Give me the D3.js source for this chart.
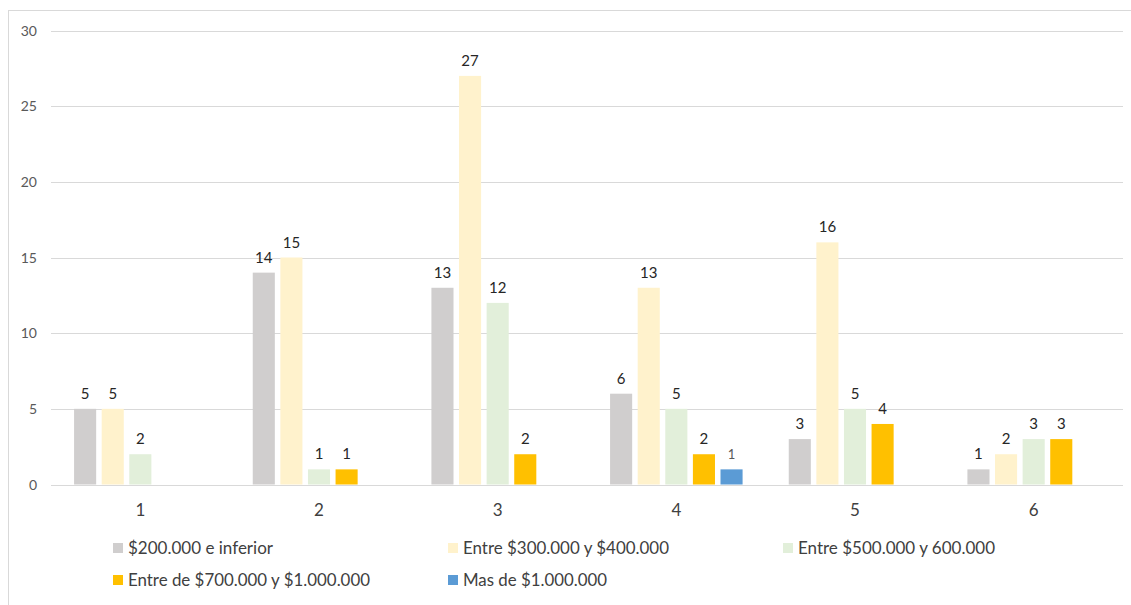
<!DOCTYPE html>
<html>
<head>
<meta charset="utf-8">
<script src="https://cdn.jsdelivr.net/npm/d3@7"></script>
<style>
  body { margin: 0; background: #fff; }
  text { font-family: Lato, "Liberation Sans", sans-serif; }
</style>
</head>
<body>
<script>
// categories and series
var categories = ["1", "2", "3", "4", "5", "6"];
var seriesNames = ["$200.000 e inferior", "Entre $300.000 y $400.000", "Entre $500.000 y 600.000",
                   "Entre de $700.000 y $1.000.000", "Mas de $1.000.000"];
var s200 = [5, 14, 13, 6, 3, 1];
var s300 = [5, 15, 27, 13, 16, 2];
var s500 = [2, 1, 12, 5, 5, 3];
var s700 = [0, 1, 2, 2, 4, 3];
var s1m = [0, 0, 0, 1, 0, 0];
var yTicks = [0, 5, 10, 15, 20, 25, 30];
var colours = ["#d0cece", "#fff2cc", "#e2efda", "#ffc000", "#5b9bd5"];

var allSeries = [s200, s300, s500, s700, s1m];

var W = 1131, H = 605;
var svg = d3.select("body").append("svg").attr("width", W).attr("height", H);

// outer chart frame
svg.append("rect")
    .attr("x", 8.5).attr("y", 10.5).attr("width", W + 10).attr("height", H + 10)
    .attr("fill", "none").attr("stroke", "#d9d9d9");

var plotLeft = 51, plotRight = 1123, plotTop = 30.5, plotBottom = 484.5;
var groupW = 132.5;

var x = d3.scaleBand().domain(categories).range([plotLeft, plotRight]);
var x1 = d3.scaleBand().domain(d3.range(5)).range([0, groupW]).paddingInner(0.2);
var y = d3.scaleLinear().domain([0, 30]).range([plotBottom, plotTop]);

// grid
svg.append("g").selectAll("line").data(yTicks).enter().append("line")
    .attr("x1", plotLeft).attr("x2", plotRight)
    .attr("y1", function(d) { return Math.round(y(d)) + 0.5; })
    .attr("y2", function(d) { return Math.round(y(d)) + 0.5; })
    .attr("stroke", "#d9d9d9").attr("stroke-width", 1);

// y labels
svg.append("g").selectAll("text").data(yTicks).enter().append("text")
    .attr("x", 37).attr("y", function(d) { return y(d) + 5; })
    .attr("text-anchor", "end").attr("font-size", 14).attr("fill", "#595959")
    .text(function(d) { return d; });

// x labels
svg.append("g").selectAll("text").data(categories).enter().append("text")
    .attr("x", function(d) { return x(d) + x.bandwidth() / 2; })
    .attr("y", 516).attr("text-anchor", "middle").attr("font-size", 17).attr("fill", "#404040")
    .text(function(d) { return d; });

// bars
var groupOffset = (x.bandwidth() - groupW) / 2;
allSeries.forEach(function(vals, si) {
    var pts = vals.map(function(v, i) { return {cat: categories[i], v: v}; })
        .filter(function(p) { return p.v > 0; });
    var g = svg.append("g");
    g.selectAll("rect").data(pts).enter().append("rect")
        .attr("x", function(p) { return x(p.cat) + groupOffset + x1(si); })
        .attr("width", x1.bandwidth())
        .attr("y", function(p) { return y(p.v); })
        .attr("height", function(p) { return y(0) - y(p.v); })
        .attr("fill", colours[si]);
    g.selectAll("text").data(pts).enter().append("text")
        .attr("x", function(p) { return x(p.cat) + groupOffset + x1(si) + x1.bandwidth() / 2; })
        .attr("y", function(p) { return y(p.v) - 10; })
        .attr("text-anchor", "middle")
        .attr("font-size", si == 4 ? 13 : 15)
        .attr("fill", si == 4 ? "#595959" : "#262626")
        .text(function(p) { return p.v; });
});

// legend (positions + text widths as in the picture)
var legendPos = [[113, 548], [448, 548], [783, 548], [113, 580], [448, 580]];
var legendTextW = [145, 206, 197, 242, 144];
var legend = svg.append("g").selectAll("g").data(seriesNames).enter().append("g")
    .attr("transform", function(d, i) { return "translate(" + legendPos[i][0] + "," + legendPos[i][1] + ")"; });
legend.append("rect").attr("x", 0).attr("y", -5).attr("width", 10).attr("height", 10)
    .attr("fill", function(d, i) { return colours[i]; });
legend.append("text").attr("x", 15).attr("y", 6).attr("font-size", 17).attr("fill", "#404040")
    .attr("textLength", function(d, i) { return legendTextW[i]; })
    .attr("lengthAdjust", "spacingAndGlyphs")
    .text(function(d) { return d; });
</script>
</body>
</html>
